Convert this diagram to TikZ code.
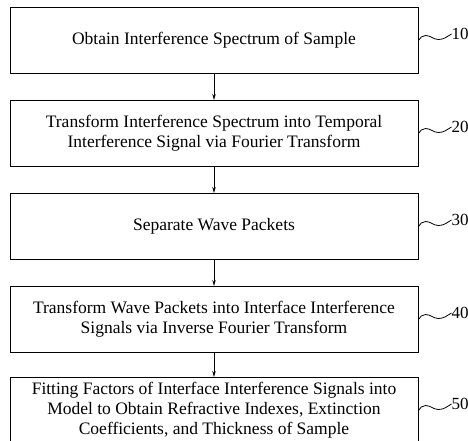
\documentclass[tikz,border=0pt]{standalone}
\usepackage{fontspec}
\setmainfont{Liberation Serif}
\usetikzlibrary{positioning,arrows.meta,calc}

\begin{document}
\begin{tikzpicture}[x=1pt,y=1pt,
   stepbox/.style={draw,line width=1pt,minimum width=408pt,minimum height=66pt,
      align=center,font=\fontsize{17.5}{20}\selectfont},
   reflabel/.style={anchor=west,inner sep=0pt,font=\fontsize{17}{20}\selectfont},
   flow/.style={-{Stealth[length=6pt,width=3.5pt]},line width=0.8pt},
   node distance=26pt]

\useasboundingbox (0,0) rectangle (468,-441);
\clip (0,0) rectangle (468,-441);

\node[stepbox] (s1) at (214,-40.5) {Obtain Interference Spectrum of Sample};
\node[stepbox,below=of s1] (s2) {Transform Interference Spectrum into Temporal\\
   Interference Signal via Fourier Transform};
\node[stepbox,below=of s2] (s3) {Separate Wave Packets};
\node[stepbox,below=of s3] (s4) {Transform Wave Packets into Interface Interference\\
   Signals via Inverse Fourier Transform};
\node[stepbox,below=24pt of s4] (s5) {Fitting Factors of Interface Interference Signals into\\
   Model to Obtain Refractive Indexes, Extinction\\
   Coefficients, and Thickness of Sample};

\foreach \a/\b in {s1/s2,s2/s3,s3/s4,s4/s5}
   \draw[flow] (\a) -- (\b);

% reference numerals
\foreach \stp/\lbl in {s1/10,s2/20,s3/30,s4/40,s5/50}{
   \node[reflabel] (r\lbl) at ($(\stp.east)+(33,6.5)$) {\lbl};
   \draw[line width=0.8pt] (\stp.east) to[out=60,in=180] ++(7,5)
      to[out=0,in=180] ++(13,-4) to[out=0,in=210] (r\lbl.west);
}

\end{tikzpicture}
\end{document}
